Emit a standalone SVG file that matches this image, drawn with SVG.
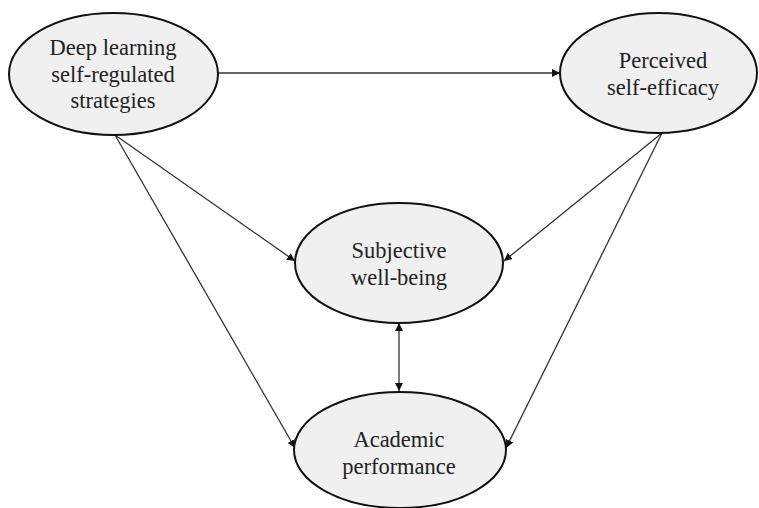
<svg xmlns="http://www.w3.org/2000/svg" width="759" height="508" viewBox="0 0 759 508">
<style>
.node ellipse{fill:#f0f0f0;stroke:#111;stroke-width:2}
.node text{font-family:"Liberation Serif","Times New Roman",serif;font-size:22.5px;fill:#222;text-anchor:middle}
.conn line{stroke:#333;stroke-width:1.3;fill:none}
</style>
<defs>
<marker id="ah" viewBox="0 0 10 10" refX="10" refY="5" markerWidth="8" markerHeight="8" markerUnits="userSpaceOnUse" orient="auto-start-reverse">
<path d="M0,0 L10,5 L0,10 z" fill="#111"/>
</marker>
</defs>
<rect width="759" height="508" fill="#fff"/>
<g id="connectors" class="conn">
<line x1="218" y1="73" x2="560" y2="73" marker-end="url(#ah)"/>
<line x1="115" y1="135" x2="295" y2="261" marker-end="url(#ah)"/>
<line x1="115" y1="135" x2="295" y2="448" marker-end="url(#ah)"/>
<line x1="662" y1="133" x2="504" y2="261" marker-end="url(#ah)"/>
<line x1="662" y1="133" x2="506" y2="448" marker-end="url(#ah)"/>
<line x1="399" y1="323" x2="399" y2="391" marker-start="url(#ah)" marker-end="url(#ah)"/>
</g>
<g id="deep" class="node">
<ellipse cx="113.5" cy="74" rx="104.5" ry="61"/>
<text x="113" y="55">Deep learning</text>
<text x="113" y="82">self-regulated</text>
<text x="113" y="108">strategies</text>
</g>
<g id="efficacy" class="node">
<ellipse cx="658.5" cy="73" rx="98.5" ry="60"/>
<text x="663" y="68">Perceived</text>
<text x="663" y="95">self-efficacy</text>
</g>
<g id="wellbeing" class="node">
<ellipse cx="399" cy="263" rx="104" ry="60"/>
<text x="399" y="258">Subjective</text>
<text x="399" y="285">well-being</text>
</g>
<g id="performance" class="node">
<ellipse cx="400" cy="450" rx="106" ry="58"/>
<text x="399" y="447">Academic</text>
<text x="399" y="474">performance</text>
</g>
</svg>
